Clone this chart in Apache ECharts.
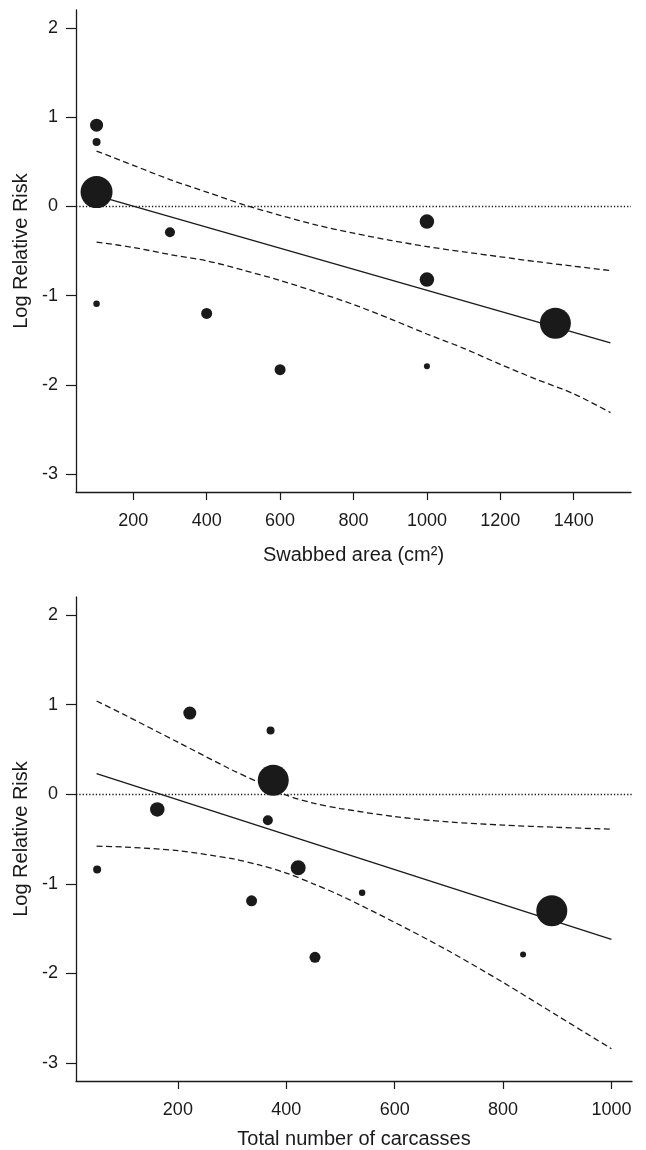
<!DOCTYPE html>
<html>
<head>
<meta charset="utf-8">
<script src="https://cdn.jsdelivr.net/npm/echarts@6/dist/echarts.min.js"></script>
<style>
    html, body { margin: 0; padding: 0; background: #fff; }
    #chart { width: 646px; height: 1150px; }
</style>
</head>
<body>
<div id="chart"></div>
<script>
// swabbed area panel
var areaX = [100, 100, 100, 300, 1000, 1000, 100, 400, 600, 1000, 1350];
var areaY = [0.91, 0.72, 0.16, -0.29, -0.17, -0.82, -1.09, -1.20, -1.83, -1.79, -1.31];
var areaWeight = [13, 8, 32, 10, 14.5, 14.5, 6.5, 11, 11, 6, 31];
var areaFitX = [100, 1500];
var areaFitY = [0.12, -1.53];
var areaCiX = [100, 200, 300, 400, 500, 600, 700, 800, 900, 1000, 1100, 1200, 1300, 1400, 1500];
var areaUpper = [0.62, 0.46, 0.30, 0.16, 0.02, -0.10, -0.21, -0.30, -0.38, -0.45, -0.51, -0.565, -0.62, -0.67, -0.72];
var areaLower = [-0.40, -0.46, -0.54, -0.61, -0.715, -0.83, -0.96, -1.10, -1.26, -1.43, -1.59, -1.77, -1.94, -2.10, -2.31];
var areaTicks = [200, 400, 600, 800, 1000, 1200, 1400];

// carcasses panel
var carcX = [222, 371, 376, 162, 366, 51, 422, 336, 540, 453, 837, 890];
var carcY = [0.905, 0.71, 0.155, -0.17, -0.29, -0.84, -0.82, -1.19, -1.10, -1.82, -1.79, -1.30];
var carcWeight = [13, 8, 31, 14.5, 10, 8, 15, 11, 6.5, 11, 6, 31];
var carcFitX = [50, 1000];
var carcFitY = [0.23, -1.62];
var carcCiX = [50, 100, 200, 300, 350, 400, 450, 500, 600, 700, 800, 900, 1000];
var carcUpper = [1.04, 0.89, 0.58, 0.27, 0.13, -0.01, -0.10, -0.16, -0.25, -0.31, -0.345, -0.37, -0.39];
var carcLower = [-0.58, -0.59, -0.63, -0.72, -0.79, -0.88, -1.00, -1.13, -1.43, -1.75, -2.10, -2.47, -2.84];
var carcTicks = [200, 400, 600, 800, 1000];

var riskTicks = [-3, -2, -1, 0, 1, 2];

function pairs(xs, ys) {
    return xs.map(function (x, i) { return [x, ys[i]]; });
}
function points(xs, ys, ws) {
    return xs.map(function (x, i) { return [x, ys[i], ws[i]]; });
}

var ink = '#1a1a1a';
var font = 'Liberation Sans';

function xAxisFor(idx, min, max, ticks, title, gap) {
    return {
        type: 'value',
        gridIndex: idx,
        min: min,
        max: max,
        name: title,
        nameLocation: 'middle',
        nameGap: gap,
        nameTextStyle: { color: ink, fontSize: 20, fontFamily: font },
        axisLine: { show: true, onZero: false, lineStyle: { color: ink, width: 1.3 } },
        axisTick: { show: true, length: 8, customValues: ticks, lineStyle: { color: ink, width: 1.2 } },
        axisLabel: {
            customValues: ticks, margin: 20, color: ink, fontSize: 18, fontFamily: font,
            formatter: function (v) { return String(v); }
        },
        splitLine: { show: false }
    };
}

function yAxisFor(idx) {
    return {
        type: 'value',
        gridIndex: idx,
        min: -3.2,
        max: 2.2,
        name: 'Log Relative Risk',
        nameLocation: 'middle',
        nameGap: 45,
        nameTextStyle: { color: ink, fontSize: 20, fontFamily: font },
        axisLine: { show: true, onZero: false, lineStyle: { color: ink, width: 1.3 } },
        axisTick: { show: true, length: 10, customValues: riskTicks, lineStyle: { color: ink, width: 1.2 } },
        axisLabel: {
            customValues: riskTicks, margin: 18, color: ink, fontSize: 18, fontFamily: font,
            formatter: function (v) { return String(v); }
        },
        splitLine: { show: false }
    };
}

function panelSeries(idx, fitX, fitY, ciX, upper, lower, xs, ys, ws) {
    return [
        {
            type: 'line',
            xAxisIndex: idx, yAxisIndex: idx,
            data: pairs(fitX, fitY),
            symbol: 'none',
            lineStyle: { color: ink, width: 1.4 },
            markLine: {
                silent: true,
                symbol: 'none',
                label: { show: false },
                lineStyle: { color: ink, width: 1.3, type: [1.3, 2] },
                data: [{ yAxis: 0 }]
            }
        },
        {
            type: 'line',
            xAxisIndex: idx, yAxisIndex: idx,
            data: pairs(ciX, upper),
            smooth: 0.3,
            symbol: 'none',
            lineStyle: { color: ink, width: 1.3, type: [6, 3.5] }
        },
        {
            type: 'line',
            xAxisIndex: idx, yAxisIndex: idx,
            data: pairs(ciX, lower),
            smooth: 0.3,
            symbol: 'none',
            lineStyle: { color: ink, width: 1.3, type: [6, 3.5] }
        },
        {
            type: 'scatter',
            xAxisIndex: idx, yAxisIndex: idx,
            data: points(xs, ys, ws),
            symbol: 'circle',
            symbolSize: function (d) { return d[2]; },
            itemStyle: { color: ink, opacity: 1 },
            z: 5
        }
    ];
}

var myChart = echarts.init(document.getElementById('chart'));

var option = {
    backgroundColor: '#fff',
    animation: false,
    grid: [
        { left: 76, right: 15, top: 10, height: 482 },
        { left: 76, right: 14, top: 597, height: 485 }
    ],
    xAxis: [
        xAxisFor(0, 44, 1556, areaTicks, 'Swabbed area (cm²)', 53),
        xAxisFor(1, 12, 1038, carcTicks, 'Total number of carcasses', 48)
    ],
    yAxis: [yAxisFor(0), yAxisFor(1)],
    series: panelSeries(0, areaFitX, areaFitY, areaCiX, areaUpper, areaLower, areaX, areaY, areaWeight)
        .concat(panelSeries(1, carcFitX, carcFitY, carcCiX, carcUpper, carcLower, carcX, carcY, carcWeight))
};
myChart.setOption(option);
</script>
</body>
</html>
